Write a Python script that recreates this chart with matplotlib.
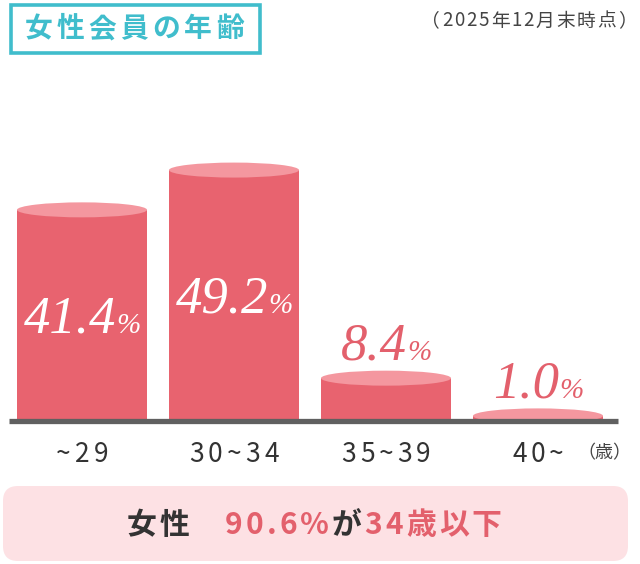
import matplotlib.pyplot as plt
from matplotlib.patches import Rectangle, Ellipse, FancyBboxPatch
from matplotlib.transforms import IdentityTransform


CATEGORIES = ["~29", "30~34", "35~39", "40~"]
SHARES = [41.4, 49.2, 8.4, 1.0]
SHARE_TEXT = ["41.4", "49.2", "8.4", "1.0"]
LABEL_INSIDE = [True, True, False, False]

TITLE = "女性会員の年齢"
AS_OF = "（2025年12月末時点）"
UNIT = "（歳）"
SUMMARY = [("女性", "dark"), ("　", "dark"), ("90.6%", "pink"), ("が", "dark"), ("34歳以下", "pink")]

BODY = "#E8636F"
TOP = "#F4979F"
PINK_TEXT = "#E3606C"
DARK = "#333333"
TEAL = "#40BDCC"
BASE_GRAY = "#606060"
FOOT_BG = "#FDE1E4"

# pixel layout: bar i centred at 82 + 152 * i, zero line at y=421, 5.1 px per %
W, H = 640, 564
BASE_PX = 421
PX_PER_PCT = 5.1
X0_PX = 82
STEP_PX = 152
BAR_W = 130 / STEP_PX
CAP_H = 15 / PX_PER_PCT

plt.rcParams["font.family"] = ["Noto Sans CJK JP", "DejaVu Sans"]

fig = plt.figure(figsize=(W / 100, H / 100), dpi=100)
renderer = fig.canvas.get_renderer()

deco = fig.add_axes([0, 0, 1, 1])
deco.set_xlim(0, W)
deco.set_ylim(H, 0)
deco.axis("off")

ax = fig.add_axes([0, 0, 1, 1], facecolor="none")
ax.set_xlim(-X0_PX / STEP_PX, (W - X0_PX) / STEP_PX)
ax.set_ylim(-(H - BASE_PX) / PX_PER_PCT, BASE_PX / PX_PER_PCT)
ax.axis("off")


def draw_runs(axes, x, y, runs, spacing=0, va="baseline", split=True):
    # place text pieces side by side, centred on (x, y); spacing adds tracking in px
    pieces = []
    for s, kw in runs:
        parts = list(s) if split else [s]
        pieces += [(p, kw) for p in parts]
    texts = [axes.text(0, 0, p, va=va, **kw) for p, kw in pieces]
    widths = [t.get_window_extent(renderer).width for t in texts]
    cx, cy = axes.transData.transform((x, y))
    cur = cx - (sum(widths) + spacing * (len(texts) - 1)) / 2
    for t, w in zip(texts, widths):
        t.set_transform(IdentityTransform())
        t.set_position((cur, cy))
        cur += w + spacing


# title box and date
deco.add_patch(Rectangle((10.5, 4.5), 249, 48, fill=False, ec=TEAL, lw=2.6))
draw_runs(deco, 134, 29, [(TITLE, dict(fontsize=20, color=TEAL, fontweight="bold"))],
          spacing=4.2, va="center")
draw_runs(deco, 529, 21, [(AS_OF, dict(fontsize=13.5, color="#444444"))],
          spacing=1.8, va="center")

# cylinders
for i, v in enumerate(SHARES):
    ax.add_patch(Rectangle((i - BAR_W / 2, 0), BAR_W, v, fc=BODY, ec="none", zorder=2))
    ax.add_patch(Ellipse((i, v), BAR_W, CAP_H, fc=TOP, ec="none", zorder=3))

ax.hlines(0, -73 / STEP_PX, (618 - X0_PX) / STEP_PX, color=BASE_GRAY, lw=3.8, zorder=4)

# value labels
serif = dict(family="Liberation Serif", style="italic")
for i, (v, s, inside) in enumerate(zip(SHARES, SHARE_TEXT, LABEL_INSIDE)):
    color = "white" if inside else PINK_TEXT
    y = v / 2 - 3.4 if inside else v + 3.6
    draw_runs(ax, i, y, [
        (s, dict(fontsize=38, color=color, zorder=5, **serif)),
        ("%", dict(fontsize=21, color=color, zorder=5, **serif)),
    ], split=False)

# category labels
for i, cat in enumerate(CATEGORIES):
    draw_runs(ax, i, -(455 - BASE_PX) / PX_PER_PCT,
              [(cat, dict(fontsize=19, color=DARK))], spacing=4, va="center")
deco.text(604, 453, UNIT, ha="center", va="center", fontsize=13, color="#444444")

# summary box
deco.add_patch(FancyBboxPatch((18, 501), 595, 45, boxstyle="round,pad=15",
                              fc=FOOT_BG, ec="none"))
colors = {"dark": DARK, "pink": PINK_TEXT}
draw_runs(deco, 314, 534, [
    (s, dict(fontsize=21.5, color=colors[c], fontweight="bold")) for s, c in SUMMARY
], spacing=3)

fig.savefig("out.png", dpi=100)
